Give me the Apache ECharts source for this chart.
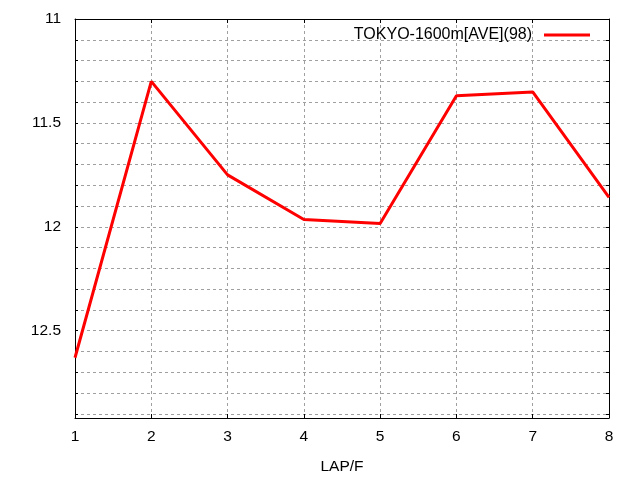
<!DOCTYPE html>
<html>
<head>
<meta charset="utf-8">
<script src="https://cdn.jsdelivr.net/npm/echarts@6/dist/echarts.min.js"></script>
<style>html,body{margin:0;padding:0;background:#fff}#c{width:640px;height:480px}</style>
</head>
<body>
<div id="c"></div>
<script>
var laps = [1, 2, 3, 4, 5, 6, 7, 8];
var times = [12.63, 11.30, 11.75, 11.965, 11.984, 11.369, 11.351, 11.858];
var seriesName = 'TOKYO-1600m[AVE](98)';
var xName = 'LAP/F';
var yMin = 11, yMax = 12.92;

var FONT = 'Liberation Sans, Arial, sans-serif';
var grid = {left: 75, right: 31, top: 19, bottom: 62};
var dash = {color: '#a0a0a0', type: [3, 3], width: 1};
var blackLine = {show: true, lineStyle: {color: '#000', width: 1}};

var chart = echarts.init(document.getElementById('c'), null, {renderer: 'canvas'});
chart.setOption({
  animation: false,
  backgroundColor: '#fff',
  grid: grid,
  legend: {
    right: 45, top: 22,
    align: 'right',
    icon: 'rect',
    itemWidth: 46, itemHeight: 3,
    textStyle: {fontFamily: FONT, fontSize: 16, color: '#000', padding: [0, 7, 0, 0]},
    data: [{name: seriesName, itemStyle: {color: '#ff0000'}}]
  },
  xAxis: [{
    type: 'value', min: 1, max: 8, interval: 1, position: 'bottom',
    name: xName, nameLocation: 'middle', nameGap: 41,
    nameTextStyle: {fontFamily: FONT, fontSize: 15.5, color: '#000'},
    axisLine: blackLine,
    axisTick: {show: true, inside: true, length: 4, lineStyle: {color: '#000'}},
    axisLabel: {fontFamily: FONT, fontSize: 15.5, color: '#000', margin: 11},
    splitLine: {show: true, lineStyle: dash}
  }, {
    type: 'value', min: 1, max: 8, interval: 1, position: 'top',
    axisLine: blackLine,
    axisTick: {show: true, inside: true, length: 4, lineStyle: {color: '#000'}},
    axisLabel: {show: false},
    splitLine: {show: false}
  }],
  yAxis: [{
    type: 'value', min: yMin, max: yMax, interval: 0.1, inverse: true, position: 'left',
    axisLine: blackLine,
    axisTick: {show: true, inside: true, length: 3, lineStyle: {color: '#000'}},
    axisLabel: {
      fontFamily: FONT, fontSize: 15.5, color: '#000', margin: 14, showMaxLabel: false,
      formatter: function (v) {
        var r = Math.round(v * 2) / 2;
        return Math.abs(v - r) < 1e-6 ? String(r) : '';
      }
    },
    splitLine: {show: true, lineStyle: dash}
  }, {
    type: 'value', min: yMin, max: yMax, interval: 0.1, inverse: true, position: 'right',
    axisLine: blackLine,
    axisTick: {show: true, inside: true, length: 3, lineStyle: {color: '#000'}},
    axisLabel: {show: false},
    splitLine: {show: false}
  }],
  series: [{
    name: seriesName,
    type: 'line',
    xAxisIndex: 0, yAxisIndex: 0,
    data: laps.map(function (l, i) { return [l, times[i]]; }),
    showSymbol: false,
    symbol: 'none',
    lineStyle: {color: '#ff0000', width: 3},
    itemStyle: {color: '#ff0000'}
  }]
});
</script>
</body>
</html>
